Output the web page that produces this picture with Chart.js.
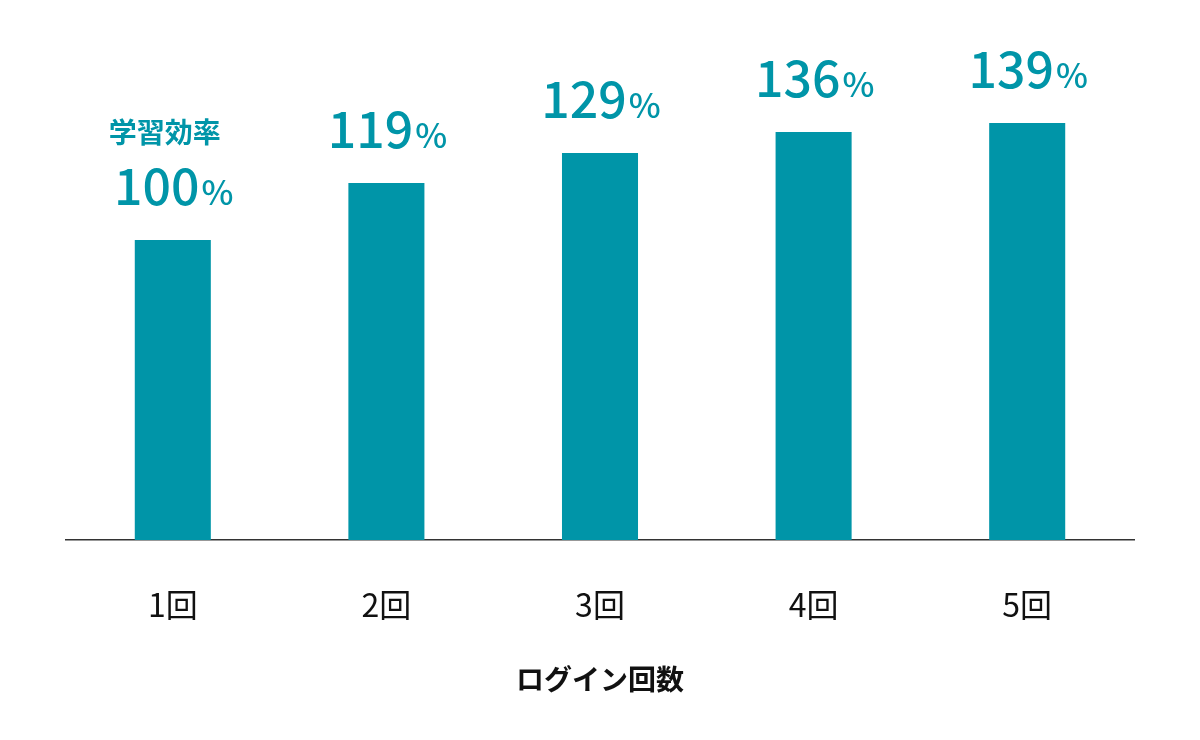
<!DOCTYPE html>
<html>
<head>
<meta charset="utf-8">
<script src="https://cdn.jsdelivr.net/npm/chart.js@4/dist/chart.umd.min.js"></script>
<style>
  html, body { margin: 0; padding: 0; background: #fff; }
  #wrap { width: 1200px; height: 740px; }
</style>
</head>
<body>
<div id="wrap"><canvas id="chart" width="1200" height="740"></canvas></div>
<script>
const categories = ['1回', '2回', '3回', '4回', '5回'];
const efficiency = [100, 119, 129, 136, 139];
const firstLabel = '学習効率';
const axisTitle = 'ログイン回数';

const teal = '#0095A8';
const font = '"Noto Sans CJK JP", "Noto Sans", sans-serif';

// value labels above each bar, "%" drawn smaller
const valueLabels = {
  id: 'valueLabels',
  afterDatasetsDraw(chart) {
    const ctx = chart.ctx;
    const bars = chart.getDatasetMeta(0).data;
    ctx.save();
    ctx.fillStyle = teal;
    ctx.textBaseline = 'alphabetic';
    bars.forEach((bar, i) => {
      const num = String(efficiency[i]);
      ctx.font = '500 50px ' + font;
      const wNum = ctx.measureText(num).width;
      ctx.font = '500 34px ' + font;
      const wPct = ctx.measureText('%').width;
      const left = bar.x - (wNum + wPct) / 2;
      const base = bar.y - 35;
      ctx.textAlign = 'left';
      ctx.font = '500 50px ' + font;
      ctx.fillText(num, left, base);
      ctx.font = '500 34px ' + font;
      ctx.fillText('%', left + wNum + 2, base);
      if (i === 0) {
        ctx.textAlign = 'center';
        ctx.font = 'bold 28px ' + font;
        ctx.fillText(firstLabel, bar.x - 8, base - 62);
      }
    });
    ctx.restore();
  }
};

new Chart(document.getElementById('chart'), {
  type: 'bar',
  data: {
    labels: categories,
    datasets: [{
      data: efficiency,
      backgroundColor: teal,
      categoryPercentage: 1,
      barPercentage: 0.356
    }]
  },
  options: {
    responsive: false,
    animation: false,
    devicePixelRatio: 1,
    layout: { padding: { left: 66, right: 66, top: 0, bottom: 40 } },
    plugins: { legend: { display: false }, tooltip: { enabled: false } },
    scales: {
      y: { display: false, min: 0, max: 180 },
      x: {
        grid: { display: false },
        border: { display: true, color: '#333', width: 1.5 },
        ticks: { color: '#111', padding: 38, autoSkip: false, maxRotation: 0, font: { family: font, size: 32 } },
        title: {
          display: true, text: axisTitle, color: '#111',
          font: { family: font, size: 28, weight: 'bold' }
        },
        afterFit(scale) { scale.height = 160; }
      }
    }
  },
  plugins: [valueLabels]
});
</script>
</body>
</html>
